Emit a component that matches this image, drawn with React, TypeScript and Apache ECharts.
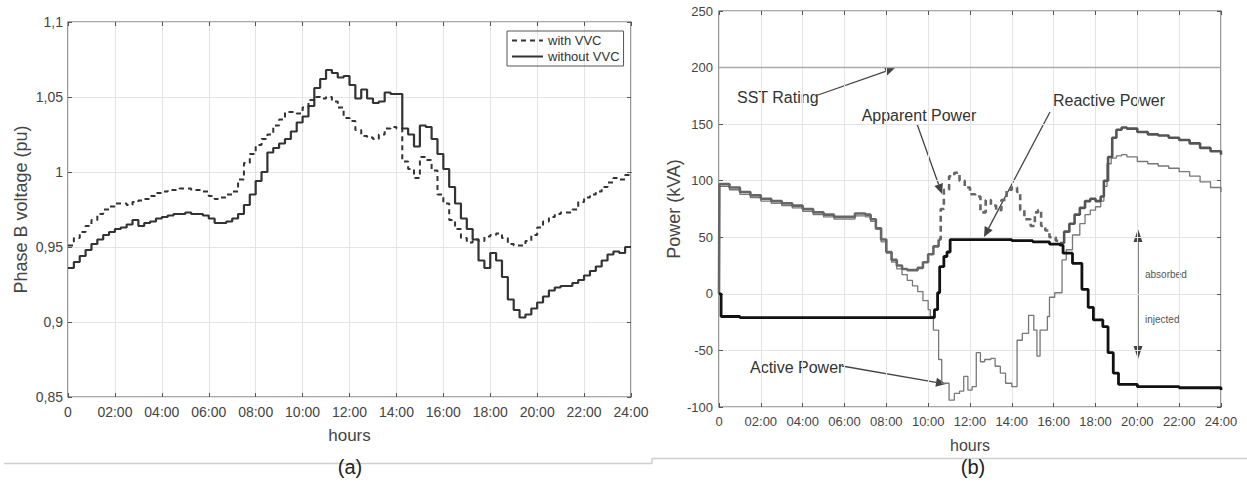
import React, { useEffect, useRef } from "react";
import * as echarts from "echarts";

// ---------- Data ----------
// Left chart (a): phase B voltage (pu) at 15-minute steps, 0..24 h
const STEP_H = 0.25;
const withVVC = [
  0.951, 0.956, 0.960, 0.964, 0.968, 0.972, 0.975, 0.977, 0.979, 0.979, 0.978, 0.980,
  0.981, 0.982, 0.984, 0.986, 0.987, 0.988, 0.988, 0.989, 0.989, 0.988, 0.988, 0.987,
  0.984, 0.982, 0.983, 0.985, 0.987, 0.995, 1.006, 1.012, 1.018, 1.022, 1.025, 1.031,
  1.035, 1.040, 1.040, 1.039, 1.043, 1.048, 1.050, 1.049, 1.050, 1.047, 1.043, 1.036,
  1.034, 1.028, 1.024, 1.023, 1.022, 1.025, 1.029, 1.030, 1.029, 1.007, 1.002, 0.996,
  1.010, 1.008, 1.001, 0.985, 0.979, 0.968, 0.962, 0.956, 0.953, 0.955, 0.954, 0.957,
  0.958, 0.959, 0.956, 0.952, 0.951, 0.951, 0.954, 0.958, 0.963, 0.967, 0.970, 0.972,
  0.973, 0.973, 0.975, 0.980, 0.983, 0.985, 0.987, 0.990, 0.993, 0.996, 0.995, 0.998,
  1.000,
];
const withoutVVC = [
  0.936, 0.940, 0.944, 0.948, 0.952, 0.955, 0.958, 0.960, 0.962, 0.963, 0.965, 0.968,
  0.964, 0.966, 0.967, 0.969, 0.970, 0.971, 0.972, 0.972, 0.973, 0.972, 0.972, 0.971,
  0.969, 0.966, 0.966, 0.967, 0.969, 0.972, 0.978, 0.985, 0.994, 1.000, 1.013, 1.016,
  1.019, 1.022, 1.027, 1.033, 1.037, 1.044, 1.056, 1.062, 1.068, 1.066, 1.063, 1.064,
  1.058, 1.049, 1.055, 1.049, 1.046, 1.047, 1.053, 1.052, 1.052, 1.029, 1.025, 1.017,
  1.031, 1.030, 1.022, 1.012, 1.002, 0.990, 0.979, 0.969, 0.962, 0.955, 0.941, 0.936,
  0.946, 0.941, 0.930, 0.915, 0.908, 0.903, 0.905, 0.909, 0.913, 0.917, 0.921, 0.923,
  0.924, 0.924, 0.926, 0.928, 0.931, 0.934, 0.937, 0.941, 0.945, 0.947, 0.946, 0.950,
  0.950,
];
const leftYTicks = [0.85, 0.9, 0.95, 1, 1.05, 1.1];

// Right chart (b): power (kVA), [hour, value]
const apparentA: [number, number][] = [
  [0, 0], [0.02, 97], [0.5, 94], [1, 90], [1.5, 87], [2, 84], [2.5, 82], [3, 80], [3.5, 78],
  [4, 75], [4.5, 72], [5, 70], [5.5, 68], [6, 68], [6.5, 71], [7, 70], [7.25, 66], [7.5, 58],
  [7.75, 48], [8, 37], [8.25, 30], [8.5, 25], [8.75, 22], [9, 21], [9.25, 21], [9.5, 23],
  [9.75, 28], [10, 35], [10.25, 42], [10.5, 48],
];
const apparentDashed: [number, number][] = [
  [10.5, 48], [10.6, 75], [10.75, 92], [11, 104], [11.25, 107], [11.5, 100], [11.75, 94],
  [12, 88], [12.25, 86], [12.5, 72], [12.75, 83], [13, 78], [13.25, 74], [13.5, 83],
  [13.75, 92], [14, 94], [14.25, 90], [14.4, 74], [14.6, 66], [14.9, 60], [15.1, 72],
  [15.25, 74], [15.4, 60], [15.6, 56], [15.8, 50], [16.1, 47], [16.3, 45],
];
const apparentB: [number, number][] = [
  [16.3, 45], [16.5, 55], [16.75, 62], [17, 70], [17.25, 76], [17.5, 82], [17.75, 84],
  [18, 82], [18.25, 86], [18.4, 100], [18.6, 121], [18.8, 138], [19, 145], [19.25, 147],
  [19.5, 146], [20, 143], [20.5, 141], [21, 140], [21.5, 138], [22, 136], [22.5, 133],
  [23, 129], [23.5, 126], [24, 123],
];
const activePower: [number, number][] = [
  [0, 95], [0.5, 92], [1, 88], [1.5, 85], [2, 82], [2.5, 80], [3, 78], [3.5, 76], [4, 73],
  [4.5, 70], [5, 68], [5.5, 66], [6, 66], [6.5, 69], [7, 68], [7.25, 64], [7.5, 57],
  [7.75, 46], [8, 36], [8.25, 28], [8.5, 22], [8.75, 17], [9, 12], [9.25, 7], [9.5, 2],
  [9.75, -6], [10, -14], [10.1, -20], [10.25, -32], [10.5, -58], [10.65, -79], [11, -94],
  [11.25, -88], [11.5, -86], [11.7, -73], [11.9, -85], [12.1, -82], [12.3, -52], [12.5, -60],
  [12.7, -58], [13, -57], [13.2, -64], [13.45, -70], [13.7, -79], [14, -82], [14.25, -41],
  [14.5, -35], [14.8, -19], [15.05, -32], [15.2, -55], [15.35, -32], [15.7, -20], [15.8, -3],
  [16.05, 1], [16.4, 30], [16.6, 39], [16.9, 52], [17.25, 62], [17.5, 70], [17.75, 74],
  [18, 77], [18.25, 82], [18.4, 95], [18.55, 115], [18.75, 120], [19, 122], [19.25, 123],
  [19.5, 121], [20, 117], [20.5, 115], [21, 113], [21.5, 111], [22, 108], [22.5, 104],
  [23, 99], [23.5, 94], [24, 90],
];
const reactivePower: [number, number][] = [
  [0, 0], [0.1, -20], [1, -21], [3, -21], [5, -21], [7, -21], [9, -21], [10, -21],
  [10.3, -14], [10.45, 1], [10.55, 24], [10.75, 33], [10.9, 37], [11.05, 48], [12, 48],
  [13, 48], [14, 47], [15, 46], [15.8, 44], [16.3, 43], [16.45, 36], [16.9, 27], [17.35, 4],
  [17.65, -12], [17.9, -23], [18.35, -29], [18.6, -52], [18.85, -70], [19.1, -80],
  [20, -82], [22, -83], [24, -85],
];
const sstRating: [number, number][] = [[0, 200], [24, 200]];
const rightYTicks = [-100, -50, 0, 50, 100, 150, 200, 250];

const FONT = "'Liberation Sans', Arial, sans-serif";

function hourLabel(v: number) {
  if (v === 0) return "0";
  return (v < 10 ? "0" : "") + v + ":00";
}

function arrow(x1: number, y1: number, x2: number, y2: number, color = "#444", head = 10, w = 4.5) {
  const dx = x2 - x1, dy = y2 - y1;
  const len = Math.sqrt(dx * dx + dy * dy);
  const ux = dx / len, uy = dy / len;
  const bx = x2 - ux * head, by = y2 - uy * head;
  const px = -uy * w, py = ux * w;
  return [
    { type: "line", shape: { x1, y1, x2: bx, y2: by }, style: { stroke: color, lineWidth: 1.3 } },
    {
      type: "polygon",
      shape: { points: [[x2, y2], [bx + px, by + py], [bx - px, by - py]] },
      style: { fill: color },
    },
  ];
}

export default function App() {
  const ref = useRef<HTMLDivElement>(null);
  useEffect(() => {
    if (!ref.current) return;
    const chart = echarts.init(ref.current, undefined, { renderer: "svg" });
    const xs = withVVC.map((_, i) => i * STEP_H);
    const tickColor = "#555";
    const gridLine = { show: true, lineStyle: { color: "#e4e4e4", width: 1 } };
    const lbl = (size: number, margin: number) => ({
      color: "#444", fontSize: size, fontFamily: FONT, margin,
    });
    const tick = { show: true, inside: true, length: 4, lineStyle: { color: tickColor } };
    const noLine = { show: false, onZero: false };
    const baseX = (gi: number, size: number, margin: number, nameGap: number, nameSize: number) => ({
      type: "value", gridIndex: gi, min: 0, max: 24, interval: 2,
      axisLine: noLine,
      axisTick: tick,
      axisLabel: { ...lbl(size, margin), formatter: (v: number) => hourLabel(v), showMaxLabel: true },
      splitLine: gridLine,
      name: "hours", nameLocation: "middle", nameGap,
      nameTextStyle: { color: "#444", fontSize: nameSize, fontFamily: FONT },
    });
    const topX = (gi: number) => ({
      type: "value", gridIndex: gi, position: "top", min: 0, max: 24, interval: 2,
      axisLine: noLine, axisTick: tick,
      axisLabel: { show: false }, splitLine: { show: false },
    });

    const option: any = {
      animation: false,
      backgroundColor: "#fff",
      legend: {
        data: ["with VVC", "without VVC"],
        orient: "vertical",
        left: 507, top: 31,
        borderColor: "#555", borderWidth: 1,
        padding: [3, 4, 3, 4],
        itemGap: 3, itemWidth: 31, itemHeight: 8,
        itemStyle: { opacity: 0 },
        textStyle: { color: "#333", fontSize: 13, fontFamily: FONT },
      },
      grid: [
        { left: 68, top: 22, width: 563, height: 375, show: true, borderColor: "#555", borderWidth: 1.2, backgroundColor: "transparent" },
        { left: 719, top: 11, width: 502, height: 396, show: true, borderColor: "#555", borderWidth: 1.2, backgroundColor: "transparent" },
      ],
      xAxis: [
        baseX(0, 14, 8, 30, 17),
        topX(0),
        baseX(1, 13, 8, 30, 16),
        topX(1),
      ],
      yAxis: [
        {
          type: "value", gridIndex: 0, min: 0.85, max: 1.1, interval: 0.05,
          axisLine: noLine, axisTick: tick,
          axisLabel: {
            ...lbl(14, 5),
            formatter: (v: number) => {
              const t = leftYTicks.find((k) => Math.abs(k - v) < 1e-6);
              return String(t ?? Number(v.toFixed(2))).replace(".", ",");
            },
          },
          splitLine: gridLine,
          name: "Phase B voltage (pu)", nameLocation: "middle", nameGap: 38,
          nameTextStyle: { color: "#444", fontSize: 18, fontFamily: FONT },
        },
        {
          type: "value", gridIndex: 0, position: "right", min: 0.85, max: 1.1, interval: 0.05,
          axisLine: noLine, axisTick: tick,
          axisLabel: { show: false }, splitLine: { show: false },
        },
        {
          type: "value", gridIndex: 1, min: -100, max: 250, interval: 50,
          axisLine: noLine, axisTick: tick,
          axisLabel: { ...lbl(13, 6), formatter: (v: number) => String(rightYTicks.find((k) => k === v) ?? v) },
          splitLine: gridLine,
          name: "Power (kVA)", nameLocation: "middle", nameGap: 36,
          nameTextStyle: { color: "#444", fontSize: 18, fontFamily: FONT },
        },
        {
          type: "value", gridIndex: 1, position: "right", min: -100, max: 250, interval: 50,
          axisLine: noLine, axisTick: tick,
          axisLabel: { show: false }, splitLine: { show: false },
        },
      ],
      series: [
        {
          name: "with VVC", type: "line", xAxisIndex: 0, yAxisIndex: 0, step: "end",
          symbol: "none", data: xs.map((x, i) => [x, withVVC[i]]),
          lineStyle: { color: "#333", width: 2, type: [5, 4] },
          itemStyle: { color: "#333" },
        },
        {
          name: "without VVC", type: "line", xAxisIndex: 0, yAxisIndex: 0, step: "end",
          symbol: "none", data: xs.map((x, i) => [x, withoutVVC[i]]),
          lineStyle: { color: "#333", width: 2.2 },
          itemStyle: { color: "#333" },
        },
        {
          name: "SST Rating", type: "line", xAxisIndex: 2, yAxisIndex: 2, symbol: "none",
          data: sstRating, lineStyle: { color: "#aaa", width: 1.5 },
        },
        {
          name: "Active Power", type: "line", xAxisIndex: 2, yAxisIndex: 2, step: "end",
          symbol: "none", data: activePower, lineStyle: { color: "#777", width: 1.3 },
        },
        {
          name: "Apparent Power", type: "line", xAxisIndex: 2, yAxisIndex: 2, step: "end",
          symbol: "none", data: apparentA, lineStyle: { color: "#666", width: 2.6 },
        },
        {
          name: "Apparent Power (dashed)", type: "line", xAxisIndex: 2, yAxisIndex: 2, step: "end",
          symbol: "none", data: apparentDashed, lineStyle: { color: "#666", width: 2.6, type: [6, 4] },
        },
        {
          name: "Apparent Power (end)", type: "line", xAxisIndex: 2, yAxisIndex: 2, step: "end",
          symbol: "none", data: apparentB, lineStyle: { color: "#555", width: 2.6 },
        },
        {
          name: "Reactive Power", type: "line", xAxisIndex: 2, yAxisIndex: 2, step: "end",
          symbol: "none", data: reactivePower, lineStyle: { color: "#111", width: 2.8 },
        },
      ],
      graphic: [
        // separators and captions
        { type: "line", shape: { x1: 4, y1: 463.5, x2: 652, y2: 463.5 }, style: { stroke: "#cfcfcf", lineWidth: 1.5 } },
        { type: "line", shape: { x1: 652, y1: 463.5, x2: 652, y2: 458.5 }, style: { stroke: "#cfcfcf", lineWidth: 1.5 } },
        { type: "line", shape: { x1: 652, y1: 458.5, x2: 1247, y2: 458.5 }, style: { stroke: "#cfcfcf", lineWidth: 1.5 } },
        { type: "text", x: 350, y: 467, style: { text: "(a)", fill: "#222", font: `20px ${FONT}`, textAlign: "center", textVerticalAlign: "middle" } },
        { type: "text", x: 973, y: 467, style: { text: "(b)", fill: "#222", font: `20px ${FONT}`, textAlign: "center", textVerticalAlign: "middle" } },
        // annotations (b)
        { type: "text", x: 737, y: 97, style: { text: "SST Rating", fill: "#333", font: `16px ${FONT}`, textVerticalAlign: "middle" } },
        ...arrow(818, 95, 895, 68),
        { type: "text", x: 919, y: 115, style: { text: "Apparent Power", fill: "#333", font: `16px ${FONT}`, textAlign: "center", textVerticalAlign: "middle" } },
        ...arrow(917, 124, 942, 194),
        { type: "text", x: 1109, y: 100, style: { text: "Reactive Power", fill: "#333", font: `16px ${FONT}`, textAlign: "center", textVerticalAlign: "middle" } },
        ...arrow(1050, 112, 984, 237),
        { type: "text", x: 750, y: 367, style: { text: "Active Power", fill: "#333", font: `16px ${FONT}`, textVerticalAlign: "middle" } },
        ...arrow(842, 366, 946, 384),
        { type: "line", shape: { x1: 1138, y1: 240, x2: 1138, y2: 348 }, style: { stroke: "#444", lineWidth: 1.3 } },
        { type: "polygon", shape: { points: [[1138, 229], [1133.5, 242], [1142.5, 242]] }, style: { fill: "#444" } },
        { type: "polygon", shape: { points: [[1138, 359], [1133.5, 346], [1142.5, 346]] }, style: { fill: "#444" } },
        { type: "text", x: 1145, y: 274, style: { text: "absorbed", fill: "#555", font: `10px ${FONT}`, textVerticalAlign: "middle" } },
        { type: "text", x: 1145, y: 319, style: { text: "injected", fill: "#555", font: `10px ${FONT}`, textVerticalAlign: "middle" } },
      ],
    };
    chart.setOption(option);
    return () => chart.dispose();
  }, []);
  return (
    <div
      ref={ref}
      style={{ position: "fixed", left: 0, top: 0, width: 1247, height: 482, background: "#fff" }}
    />
  );
}
